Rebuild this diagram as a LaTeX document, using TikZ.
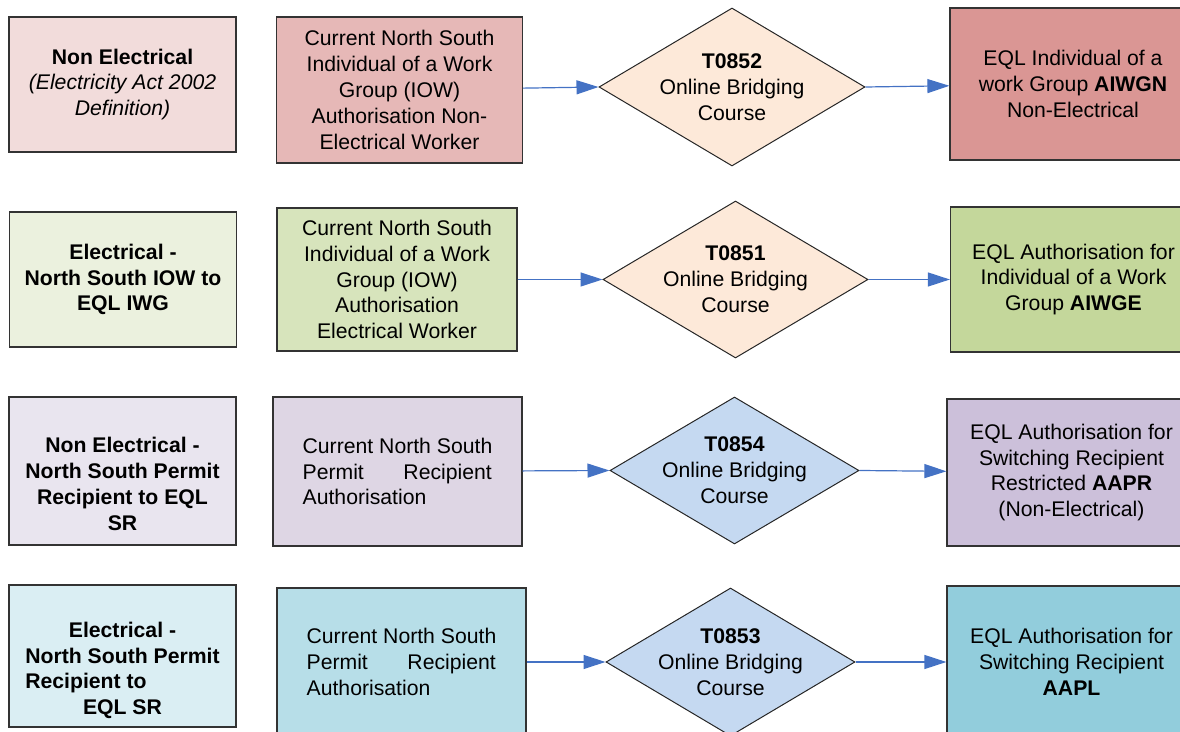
\documentclass[tikz,border=0pt]{standalone}
\usepackage{fontspec}
\setmainfont{Liberation Sans}
\usetikzlibrary{shapes, arrows.meta}
\definecolor{neA}{HTML}{F2DCDB}
\definecolor{neB}{HTML}{E6B8B7}
\definecolor{neC}{HTML}{DA9694}
\definecolor{elA}{HTML}{EBF1DE}
\definecolor{elB}{HTML}{D7E4BC}
\definecolor{elC}{HTML}{C4D79B}
\definecolor{prA}{HTML}{E9E5EF}
\definecolor{prB}{HTML}{DED6E4}
\definecolor{prC}{HTML}{CCC0DA}
\definecolor{epA}{HTML}{DAEEF3}
\definecolor{epB}{HTML}{B7DEE8}
\definecolor{epC}{HTML}{92CDDC}
\definecolor{peach}{HTML}{FDE9D9}
\definecolor{sky}{HTML}{C5D9F1}
\definecolor{flow}{HTML}{4472C4}
\tikzstyle{cell} = [rectangle, draw=black!80, line width=0.6pt, align=center, inner sep=0pt, font=\fontsize{10.6}{12.9}\selectfont]
\tikzstyle{lcell} = [cell, minimum width=113.5pt, minimum height=70pt]
\tikzstyle{mcell} = [cell, minimum width=123pt, minimum height=73pt]
\tikzstyle{rcell} = [cell, minimum width=123pt, minimum height=75pt]
\tikzstyle{course} = [diamond, draw=black!85, line width=0.5pt, align=center, inner xsep=-8pt, inner ysep=-6pt, aspect=1.7, minimum width=133pt, minimum height=79pt, font=\fontsize{10.6}{12.9}\selectfont]
\tikzstyle{line} = [draw=flow, line width=0.6pt, -{Triangle[length=11pt,width=7pt]}]

\begin{document}
\begin{tikzpicture}[x=0.5pt, y=-0.5pt]
    \useasboundingbox (0,0) rectangle (1180,732);

    % non electrical
    \node[lcell, fill=neA, minimum height=67.5pt](nonel) at (122.5,84.5){\textbf{Non Electrical}\\ \textit{(Electricity Act 2002}\\ \textit{Definition)}};
    \node[mcell, fill=neB](iownon) at (399.5,90){Current North South\\ Individual of a Work\\ Group (IOW)\\ Authorisation Non-\\ Electrical Worker};
    \node[course, fill=peach](tA) at (732,87){\textbf{T0852}\\ Online Bridging\\ Course};
    \node[rcell, fill=neC, minimum height=76pt](aiwgn) at (1073,84){EQL Individual of a\\ work Group \textbf{AIWGN}\\ Non-Electrical};

    % electrical iow
    \node[lcell, fill=elA, minimum height=67.5pt](elec) at (123,279.5){\textbf{Electrical -}\\ \textbf{North South IOW to}\\ \textbf{EQL IWG}};
    \node[mcell, fill=elB, minimum width=120pt, minimum height=71.5pt](iowel) at (397,279.5){Current North South\\ Individual of a Work\\ Group (IOW)\\ Authorisation\\ Electrical Worker};
    \node[course, fill=peach, minimum width=132.5pt, minimum height=78.5pt](tB) at (735.5,279.5){\textbf{T0851}\\ Online Bridging\\ Course};
    \node[rcell, fill=elC, minimum height=72.5pt](aiwge) at (1073.5,279.5){EQL Authorisation for\\ Individual of a Work\\ Group \textbf{AIWGE}};

    % permit recipient non electrical
    \node[lcell, fill=prA, minimum height=74pt](prnon) at (122.5,471){\rule{0pt}{20.5pt}\textbf{Non Electrical -}\\ \textbf{North South Permit}\\ \textbf{Recipient to EQL}\\ \textbf{SR}};
    \node[mcell, fill=prB, minimum width=124.5pt, minimum height=74.5pt, align=left](permA) at (397.5,471.5){Current North South\\ \makebox[94.6pt][s]{Permit Recipient}\\ Authorisation};
    \node[course, fill=sky, minimum width=124.5pt, minimum height=73.5pt](tD) at (734.5,470.5){\textbf{T0854}\\ Online Bridging\\ Course};
    \node[rcell, fill=prC, minimum width=124.5pt, minimum height=73.5pt](aapr) at (1071.5,472.5){EQL Authorisation for\\ Switching Recipient\\ Restricted \textbf{AAPR}\\ (Non-Electrical)};

    % permit recipient electrical
    \node[lcell, fill=epA, minimum height=71pt](prel) at (122.5,656){\rule{0pt}{22pt}\textbf{Electrical -}\\ \textbf{North South Permit}\\ \textbf{\rlap{Recipient to}\phantom{North South Permit}}\\ \textbf{EQL SR}};
    \node[mcell, fill=epB, minimum width=124.5pt, minimum height=74pt, align=left](permB) at (401.5,662){Current North South\\ \makebox[94.6pt][s]{Permit Recipient}\\ Authorisation};
    \node[course, fill=sky, minimum width=124.5pt, minimum height=74pt](tC) at (730.5,662){\textbf{T0853}\\ Online Bridging\\ Course};
    \node[rcell, fill=epC, minimum width=124.5pt, minimum height=76pt](aapl) at (1071.5,662){EQL Authorisation for\\ Switching Recipient\\ \textbf{AAPL}};

    \path[line] (iownon) -- (tA.west);
    \path[line] (tA.east) -- (aiwgn);
    \path[line] (iowel) -- (tB.west);
    \path[line] (tB.east) -- (aiwge);
    \path[line] (permA) -- (tD.west);
    \path[line] (tD.east) -- (aapr);
    \path[line] (permB) -- (tC.west);
    \path[line] (tC.east) -- (aapl);
\end{tikzpicture}
\end{document}
